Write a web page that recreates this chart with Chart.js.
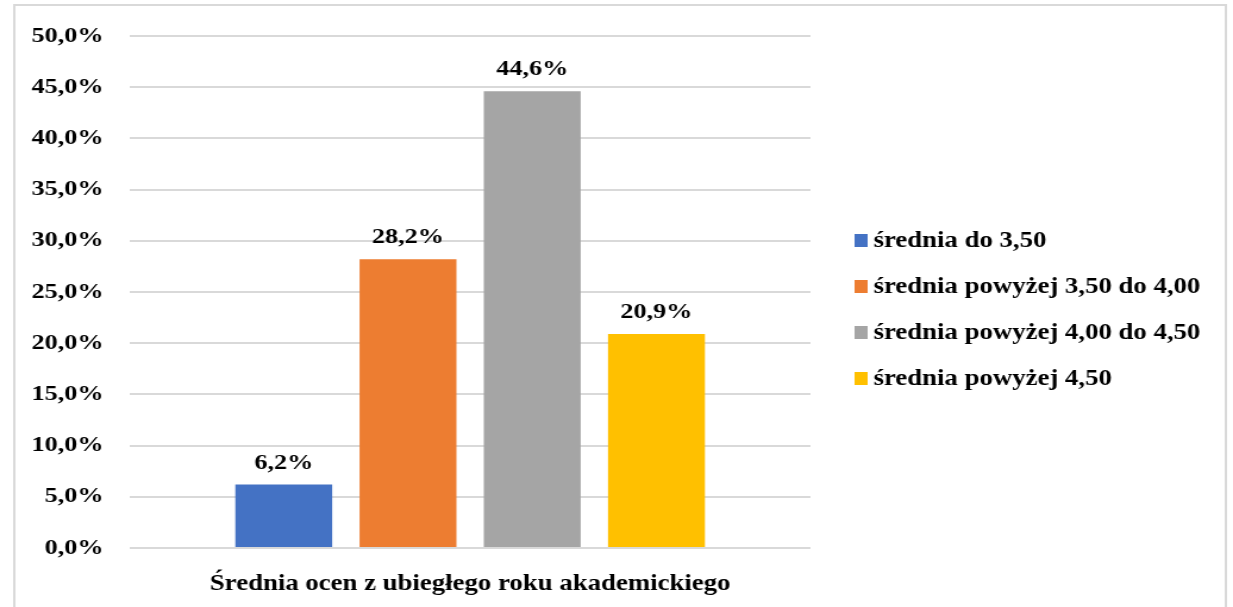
<!DOCTYPE html>
<html>
<head>
<meta charset="utf-8">
<script src="https://cdn.jsdelivr.net/npm/chart.js@4.4.1/dist/chart.umd.min.js"></script>
<style>
  html, body { margin: 0; padding: 0; background: #fff; overflow: hidden; }
</style>
</head>
<body>
<!-- the original picture is stretched sideways, so the canvas is drawn narrower and widened by its style -->
<canvas id="myChart" width="1036" height="607" style="display:block;width:1233px;height:607px"></canvas>
<script>
var categories = ['Średnia ocen z ubiegłego roku akademickiego'];
var seriesNames = [
    'średnia do 3,50',
    'średnia powyżej 3,50 do 4,00',
    'średnia powyżej 4,00 do 4,50',
    'średnia powyżej 4,50'
];
var seriesValues = [6.2, 28.2, 44.6, 20.9];
var seriesColors = ['#4472C4', '#ED7D31', '#A5A5A5', '#FFC000'];
var yTicks = [0, 5, 10, 15, 20, 25, 30, 35, 40, 45, 50];

var fontFamily = "'Liberation Serif', 'Times New Roman', serif";

function fmt(v) {
    return v.toFixed(1).replace('.', ',') + '%';
}

var frame = {
    id: 'frame',
    beforeDraw: function (chart) {
        var c = chart.ctx;
        c.save();
        c.fillStyle = '#fff';
        c.fillRect(0, 0, chart.width, chart.height);
        c.strokeStyle = '#d9d9d9';
        c.lineWidth = 2;
        c.strokeRect(12, 5, 1018, 640);
        c.restore();
    }
};

var barLabels = {
    id: 'barLabels',
    afterDatasetsDraw: function (chart) {
        var c = chart.ctx;
        c.save();
        c.font = 'bold 22px ' + fontFamily;
        c.fillStyle = '#000';
        c.textAlign = 'center';
        c.textBaseline = 'alphabetic';
        chart.data.datasets.forEach(function (ds, i) {
            var meta = chart.getDatasetMeta(i);
            meta.data.forEach(function (bar, j) {
                c.fillText(fmt(ds.data[j]), bar.x, bar.y - 16);
            });
        });
        c.restore();
    }
};

// legend to the right of the plot, built from the datasets
var sideLegend = {
    id: 'sideLegend',
    afterDraw: function (chart) {
        var c = chart.ctx;
        var area = chart.chartArea;
        var x = area.right + 37;
        var rowGap = 46;
        var n = chart.data.datasets.length;
        var mid = chart.height / 2 + 6;
        c.save();
        c.font = 'bold 22.5px ' + fontFamily;
        c.textAlign = 'left';
        c.textBaseline = 'middle';
        chart.data.datasets.forEach(function (ds, i) {
            var y = mid + (i - (n - 1) / 2) * rowGap;
            c.fillStyle = ds.backgroundColor;
            c.fillRect(x, y - 6.5, 11, 13);
            c.fillStyle = '#000';
            c.fillText(ds.label, x + 16, y + 1);
        });
        c.restore();
    }
};

Chart.defaults.color = '#000';
Chart.defaults.font.family = fontFamily;
Chart.defaults.font.weight = 'bold';
Chart.defaults.font.size = 22;

var ctx = document.getElementById('myChart').getContext('2d');

var myChart = new Chart(ctx, {
    type: 'bar',
    data: {
        labels: categories,
        datasets: seriesNames.map(function (name, i) {
            return {
                label: name,
                data: [seriesValues[i]],
                backgroundColor: seriesColors[i],
                categoryPercentage: 0.73,
                barPercentage: 0.78
            };
        })
    },
    options: {
        responsive: false,
        animation: false,
        devicePixelRatio: 1,
        layout: {
            padding: { left: 0, top: 36, right: 355, bottom: 0 }
        },
        scales: {
            x: {
                grid: { display: false },
                border: { display: false },
                ticks: { padding: 15, maxRotation: 0, minRotation: 0, autoSkip: false, font: { size: 22.5 } },
                afterFit: function (s) { s.height = 59; }
            },
            y: {
                min: 0,
                max: 50,
                afterBuildTicks: function (s) {
                    s.ticks = yTicks.map(function (v) { return { value: v }; });
                },
                grid: { color: '#d9d9d9', lineWidth: 2, drawTicks: false },
                border: { display: false },
                ticks: {
                    padding: 22,
                    callback: function (v) { return fmt(v); }
                },
                afterFit: function (s) { s.width = 109; }
            }
        },
        plugins: {
            legend: { display: false },
            tooltip: { enabled: false }
        }
    },
    plugins: [frame, barLabels, sideLegend]
});
</script>
</body>
</html>
